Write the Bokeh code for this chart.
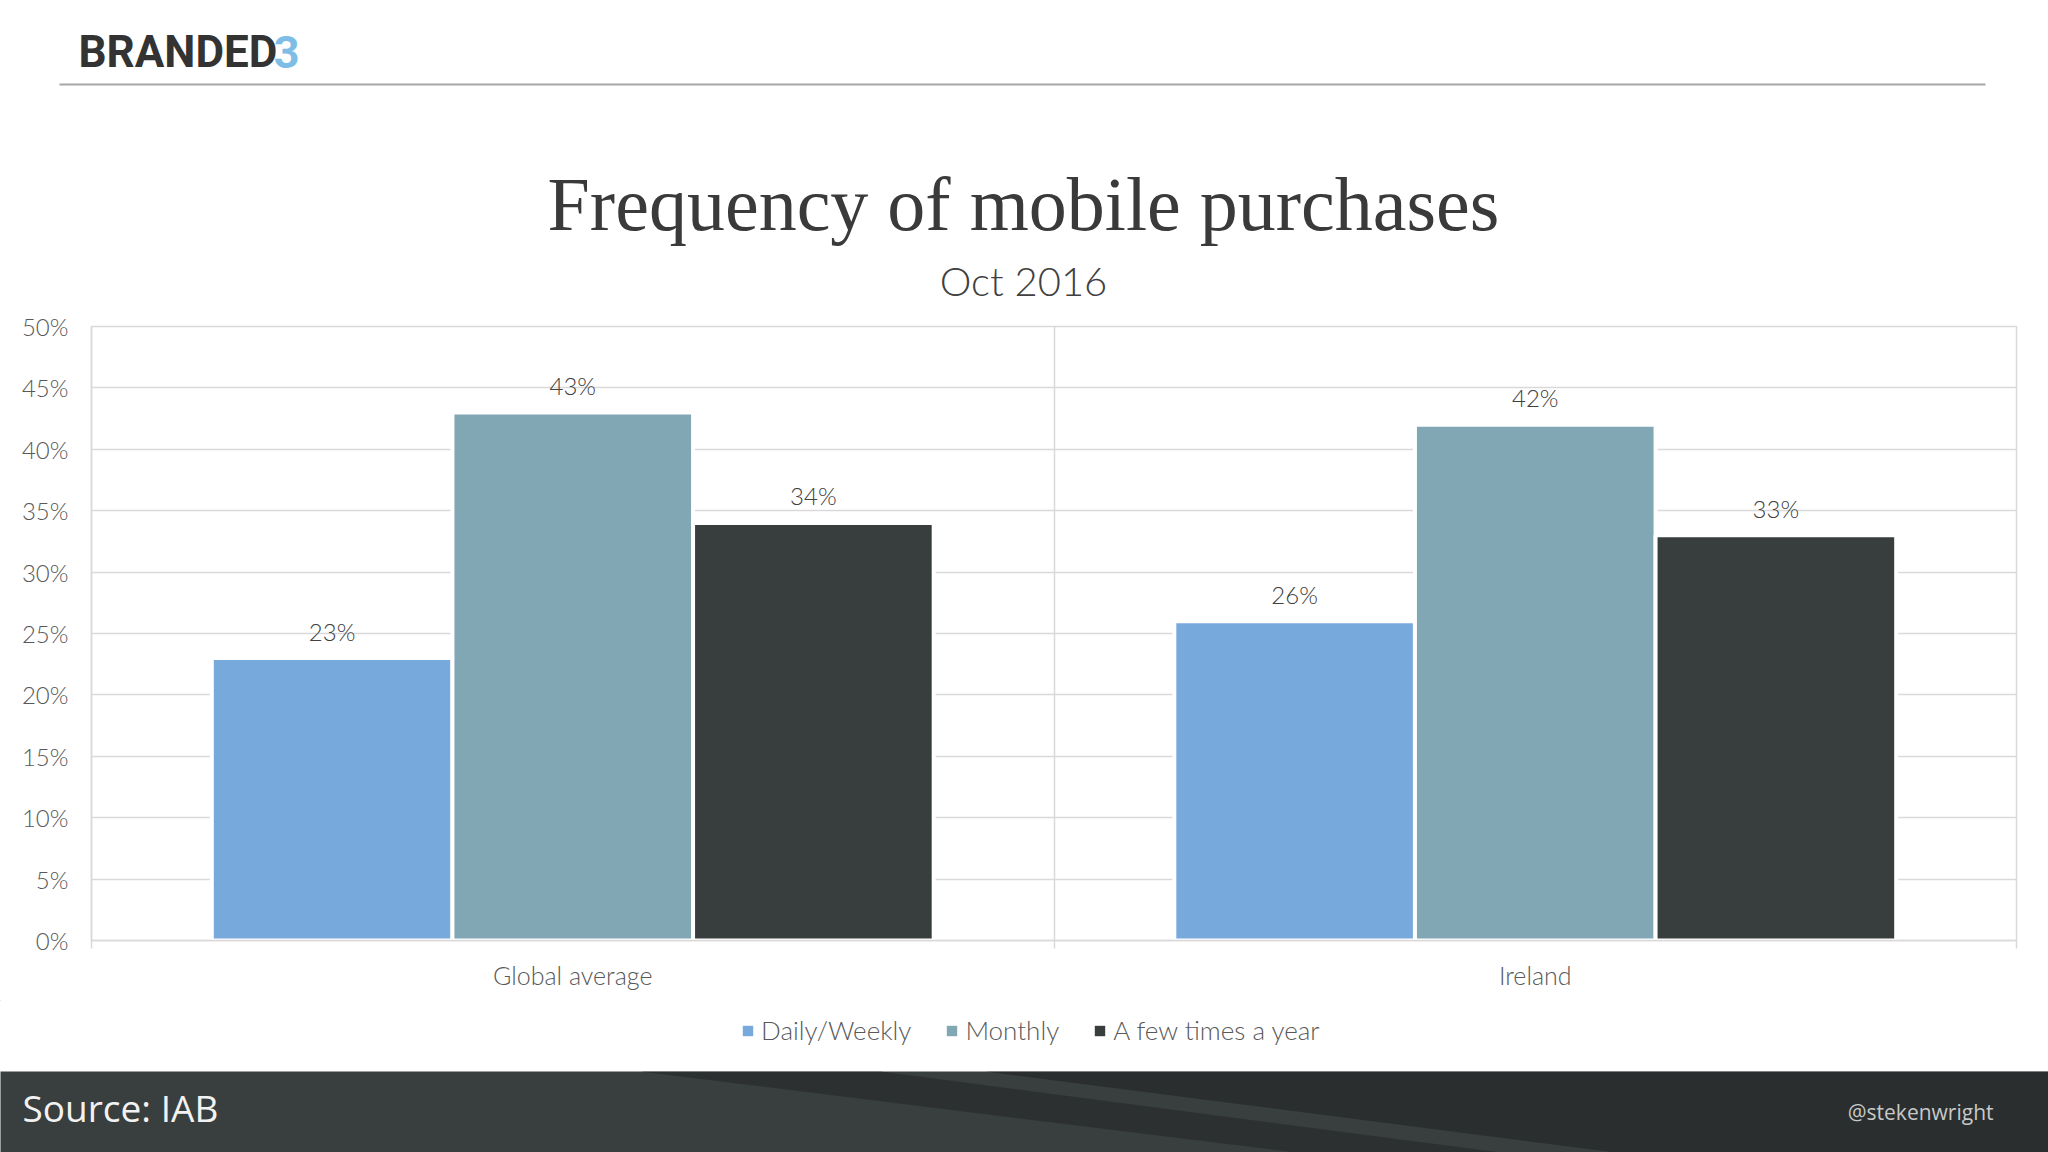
from bokeh.plotting import figure
from bokeh.models import Range1d, FixedTicker, Legend, LegendItem, LinearAxis, Grid
from bokeh.core.properties import value
from bokeh.embed import file_html
from bokeh.resources import INLINE

# ---------------- data ----------------
categories = ["Global average", "Ireland"]
series_names = ["Daily/Weekly", "Monthly", "A few times a year"]
daily_weekly = [23, 26]
monthly = [43, 42]
few_times_a_year = [34, 33]
y_ticks = [0, 5, 10, 15, 20, 25, 30, 35, 40, 45, 50]
y_tick_labels = ["0%", "5%", "10%", "15%", "20%", "25%", "30%", "35%", "40%", "45%", "50%"]
title_text = "Frequency of mobile purchases"
subtitle_text = "Oct 2016"
source_text = "Source: IAB"
handle_text = "@stekenwright"

series_values = [daily_weekly, monthly, few_times_a_year]
colors = ["#78a9dc", "#81a6b4", "#383d3e"]

W = 2048
LIGHT = "Lato Light"
GRID = "#d9d9d9"


def blank(height, y0, y1, bg="white"):
    f = figure(width=W, height=height, x_range=Range1d(0, W), y_range=Range1d(y1, y0),
               output_backend="svg", toolbar_location=None, min_border=0,
               x_axis_type=None, y_axis_type=None, outline_line_color=None,
               background_fill_color=bg, border_fill_color=bg)
    f.grid.visible = False
    return f


# ---------------- header (page y 0..308) ----------------
hdr = blank(308, 0, 308)
hdr.text(x=[78], y=[51], text=["BRANDED"], text_font=value("Roboto"), text_font_style="bold",
         text_font_size="44px", text_color="#333333", text_align="left", text_baseline="middle")
hdr.text(x=[299], y=[51], text=["3"], text_font=value("Roboto"), text_font_style="bold",
         text_font_size="45px", text_color="#7dbde6", text_align="right", text_baseline="middle")
hdr.segment(x0=[59], y0=[84], x1=[1985], y1=[84], line_color="#a6a6a6", line_width=2)
hdr.text(x=[1023], y=[203], text=[title_text], text_font=value("Liberation Serif"),
         text_font_size="76px", text_color="#3a3a3a", text_align="center", text_baseline="middle")
hdr.text(x=[1023], y=[280], text=[subtitle_text], text_font=value(LIGHT),
         text_font_size="40px", text_color="#404040", text_align="center", text_baseline="middle")

# ---------------- chart (page y 308..1000) ----------------
ch = figure(width=W, height=692, x_range=Range1d(0, len(categories)), y_range=Range1d(0, 50),
            output_backend="svg", toolbar_location=None,
            min_border_left=91, min_border_right=32, min_border_top=18, min_border_bottom=60,
            x_axis_type=None, y_axis_type=None, outline_line_color=GRID, outline_line_width=1.5,
            background_fill_color="white", border_fill_color="white")

ch.add_layout(Grid(dimension=0, ticker=FixedTicker(ticks=list(range(len(categories) + 1))),
                   grid_line_color=GRID, grid_line_width=1.5))
ch.add_layout(Grid(dimension=1, ticker=FixedTicker(ticks=y_ticks),
                   grid_line_color=GRID, grid_line_width=1.5))

bar_w = 0.25
offsets = [-bar_w, 0.0, bar_w]
for vals, col, off in zip(series_values, colors, offsets):
    xs = [i + 0.5 + off for i in range(len(categories))]
    ch.vbar(x=xs, top=vals, width=bar_w, bottom=0, fill_color=col,
            line_color="white", line_width=4)
    ch.text(x=xs, y=[v + 2.2 for v in vals], text=[f"{v}%" for v in vals],
            text_font=value(LIGHT), text_font_size="24px", text_color="#404040",
            text_align="center", text_baseline="middle")

cat_ticks = [i + 0.5 for i in range(len(categories))]
xax = LinearAxis(ticker=FixedTicker(ticks=cat_ticks, minor_ticks=list(range(len(categories) + 1))),
                 major_label_overrides={t: c for t, c in zip(cat_ticks, categories)},
                 axis_line_color=GRID, axis_line_width=1.5,
                 major_tick_line_color=None, major_tick_out=0, major_tick_in=0,
                 minor_tick_line_color=GRID, minor_tick_line_width=1.5, minor_tick_out=8, minor_tick_in=0,
                 major_label_standoff=11, major_label_text_font=LIGHT,
                 major_label_text_font_size="25px", major_label_text_color="#595959")
ch.add_layout(xax, "below")

yax = LinearAxis(ticker=FixedTicker(ticks=y_ticks),
                 major_label_overrides={t: l for t, l in zip(y_ticks, y_tick_labels)},
                 axis_line_color=GRID, axis_line_width=1.5,
                 major_tick_line_color=None, major_tick_out=0, major_tick_in=0,
                 minor_tick_line_color=None,
                 major_label_standoff=23, major_label_text_font=LIGHT,
                 major_label_text_font_size="24px", major_label_text_color="#595959")
ch.add_layout(yax, "left")

# ---------------- legend strip (page y 1000..1071) ----------------
lg = blank(71, 1000, 1071)
# legend swatches: one hidden (off-range) bar per series, used only as legend glyph sources
leg_renderers = [lg.vbar(x=[-50], top=[vals[0]], width=1, fill_color=c, line_color=None)
                 for c, vals in zip(colors, series_values)]
legend = Legend(items=[LegendItem(label=s, renderers=[r]) for s, r in zip(series_names, leg_renderers)],
                orientation="horizontal", location=(741, 25),
                glyph_width=13, glyph_height=13, label_standoff=7, spacing=34,
                label_text_font=LIGHT, label_text_font_size="26px", label_text_color="#595959",
                border_line_color=None, background_fill_alpha=0, padding=5, margin=0)
lg.add_layout(legend)

# ---------------- footer (page y 1071..1152) ----------------
ft = blank(81, 1071, 1152, bg="#393e3e")
ft.patch(x=[640, 880, 1500, 1295], y=[1071, 1071, 1152, 1152], fill_color="#2c3031", line_color=None)
ft.patch(x=[985, 2048, 2048, 1615], y=[1071, 1071, 1152, 1152], fill_color="#2a2e2f", line_color=None)
ft.text(x=[22], y=[1107], text=[source_text], text_font=value("Open Sans"),
        text_font_size="37px", text_color="#f2f2f2", text_align="left", text_baseline="middle")
ft.text(x=[1993], y=[1111], text=[handle_text], text_font=value("Open Sans"),
        text_font_size="21px", text_color="#c8c8c8", text_align="right", text_baseline="middle")

open("out.html", "w").write(file_html([hdr, ch, lg, ft], INLINE))
